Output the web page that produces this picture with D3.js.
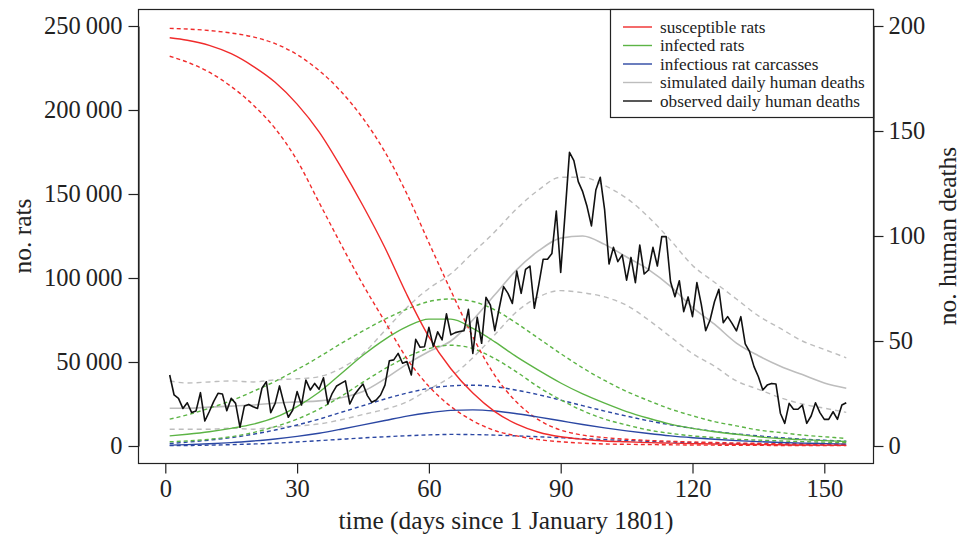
<!DOCTYPE html>
<html>
<head>
<meta charset="utf-8">
<script src="https://cdn.jsdelivr.net/npm/d3@7"></script>
<style>
  html, body { margin: 0; padding: 0; background: #fff; }
  svg { display: block; }
  text { font-family: "Liberation Serif", "DejaVu Serif", serif; fill: #222; }
</style>
</head>
<body>
<svg id="chart" width="961" height="539"></svg>
<script>
// ---------- data ----------
const xTicks = [0, 30, 60, 90, 120, 150];
const ratTicks = [0, 50000, 100000, 150000, 200000, 250000];
const deathTicks = [0, 50, 100, 150, 200];

// smooth model curves: days and values (rats)
const modelDays = [1, 5, 10, 15, 20, 25, 30, 35, 40, 45, 50, 55, 60, 65, 70, 75, 80, 85, 90, 95, 100, 105, 110, 115, 120, 125, 130, 135, 140, 145, 150, 155];
const susceptible      = [243000, 241500, 238500, 233500, 226000, 216500, 203500, 187000, 166000, 143000, 118000, 90000, 65000, 46000, 31500, 20500, 13000, 8200, 5500, 4000, 3000, 2500, 2000, 1700, 1400, 1200, 1000, 850, 700, 600, 500, 400];
const susceptibleHi    = [248600, 248200, 247300, 245800, 243500, 239500, 233000, 223500, 211000, 195000, 175000, 150000, 121000, 92500, 65000, 42000, 26000, 15500, 9500, 6500, 5000, 4000, 3300, 2800, 2400, 2100, 1800, 1600, 1450, 1300, 1150, 1000];
const susceptibleLo    = [232000, 228500, 222500, 214000, 203000, 189000, 170000, 145000, 120000, 96000, 74000, 52000, 35500, 23500, 15000, 9200, 6000, 3800, 2500, 1700, 1200, 1000, 850, 700, 600, 500, 430, 370, 320, 280, 240, 200];
const infected         = [6000, 7000, 8500, 10500, 13000, 17000, 23500, 32000, 43000, 54000, 63500, 71000, 75500, 75500, 70000, 62000, 53000, 45000, 37500, 31000, 25500, 20500, 16500, 13000, 10500, 8500, 7000, 5500, 4500, 3800, 3200, 2700];
const infectedHi       = [16000, 18500, 22500, 27000, 32500, 38500, 45500, 53000, 61000, 68500, 75500, 81500, 86000, 87500, 86000, 81000, 73000, 64000, 55000, 46500, 39000, 32500, 27000, 22000, 18000, 14500, 12000, 9500, 8000, 6500, 5500, 4500];
const infectedLo       = [2500, 3000, 4000, 5500, 8000, 11500, 16000, 22000, 29500, 38000, 46000, 53000, 58000, 60000, 58000, 52000, 44000, 35000, 27500, 21000, 16000, 12500, 9500, 7500, 6000, 5000, 4000, 3500, 3000, 2600, 2300, 2000];
const carcasses        = [500, 800, 1300, 2000, 3000, 4200, 5700, 7600, 10000, 12600, 15200, 17800, 19800, 21200, 21500, 20800, 19200, 17200, 15000, 12800, 10800, 9000, 7400, 6000, 4900, 4000, 3200, 2600, 2100, 1700, 1400, 1100];
const carcassesHi      = [1500, 2300, 3500, 5000, 7000, 9500, 12500, 16000, 20000, 24000, 28000, 31500, 34300, 35800, 36200, 35300, 33200, 30500, 27300, 24000, 20800, 17800, 15000, 12600, 10500, 8700, 7200, 6000, 5000, 4100, 3400, 2800];
const carcassesLo      = [200, 300, 500, 800, 1200, 1700, 2400, 3200, 4000, 4800, 5500, 6100, 6600, 6900, 6800, 6500, 6000, 5500, 4900, 4300, 3800, 3300, 2800, 2400, 2000, 1700, 1400, 1200, 1000, 850, 700, 600];

// simulated daily human deaths (right axis)
const simDeaths   = [18, 18, 18.5, 19, 19.5, 20.5, 21, 21.5, 23, 26, 32, 39, 45, 50, 60, 72, 84, 93, 99, 100, 96, 90, 84, 76, 66, 58, 49, 43, 38, 34, 30, 27.5];
const simDeathsHi = [31, 30, 30.5, 31, 30.5, 31.5, 32, 33, 37, 44, 55, 66, 75, 82, 92, 102, 113, 122, 128, 128, 124, 118, 109, 98, 86, 78, 70, 62, 56, 50, 46, 42];
const simDeathsLo = [8, 8, 8, 8.5, 8, 9, 9.5, 10.5, 12.5, 15, 17.5, 21, 27, 33, 42, 53, 64, 71, 74, 73, 71, 67, 60, 52, 44, 38, 31, 27, 23, 20, 18, 16];

// observed daily human deaths, days 1..155
const observed = [
  33.8, 24.3, 22.7, 17.9, 20.6, 15.9, 16.7, 25.4, 11.9, 16.3,
  21.1, 25.1, 24.8, 16.8, 22.7, 20.3, 8.9, 19, 19.8, 18.7,
  17.9, 27.5, 30.6, 15.9, 20.3, 28.6, 20.3, 13.7, 17.1, 25.9,
  19.5, 31.4, 26.7, 29.8, 27, 32.5, 20, 25.1, 28.6, 29.8,
  31, 20, 24.3, 27, 29.5, 24, 20.8, 21.9, 24.3, 29,
  40.6, 41, 44.1, 39.4, 40.2, 33.8, 50.8, 47, 47.3, 56.5,
  47.3, 54.4, 50.5, 62.9, 52.9, 54, 54.5, 54.9, 65.1, 44.1,
  61.3, 48.9, 70.8, 67.1, 54.9, 65.6, 75.9, 72.7, 67.9, 83.3,
  72.7, 84.1, 85.7, 65.6, 76.7, 88.9, 88.9, 91.7, 111.9, 82.7,
  110.8, 139.8, 135.9, 125.9, 121.1, 114, 104.8, 121.9, 128, 112.4,
  86.7, 94.6, 87.8, 91, 79, 89.8, 77.8, 95.7, 81.9, 83.8,
  94.6, 85.7, 99.7, 99.7, 78.2, 71.1, 78.7, 64, 71, 61.6,
  77.8, 67.4, 54.9, 60, 68.7, 74.6, 58.7, 61.6, 58.4, 54.8,
  61.6, 48.6, 44.9, 37.8, 33, 26.7, 29, 29.8, 29.5, 15.6,
  10.8, 20.3, 17.5, 17.5, 19.5, 10.8, 14.3, 20.6, 15.9, 12.7,
  12.7, 16.3, 12.7, 19.5, 20.6
];

const legendLabels = ["susceptible rats", "infected rats", "infectious rat carcasses", "simulated daily human deaths", "observed daily human deaths"];
const legendColors = ["#f02b2b", "#5cb445", "#2b47a3", "#bdbdbd", "#111111"];

// ---------- layout ----------
const svg = d3.select("#chart");
const box = { left: 138.5, top: 9.5, right: 873.5, bottom: 463.5 };

const x = d3.scaleLinear().domain([0, 150]).range([165.3, 824.3]);
const yL = d3.scaleLinear().domain([0, 250000]).range([446, 26]);
const yR = d3.scaleLinear().domain([0, 200]).range([446, 26]);

const TICKFONT = 24.5, TITLEFONT = 25.4;
const colRed = legendColors[0], colGreen = legendColors[1], colBlue = legendColors[2], colGrey = legendColors[3], colBlack = legendColors[4];

// plot box
svg.append("rect")
  .attr("x", box.left).attr("y", box.top)
  .attr("width", box.right - box.left).attr("height", box.bottom - box.top)
  .attr("fill", "none").attr("stroke", "#222").attr("stroke-width", 1.2);

// axes
const fmtRats = d => d3.format(",")(d).replace(/,/g, "\u2009");
const gL = svg.append("g").attr("transform", `translate(${box.left},0)`)
  .call(d3.axisLeft(yL).tickValues(ratTicks).tickFormat(fmtRats).tickSize(10).tickPadding(6).tickSizeOuter(0));
const gR = svg.append("g").attr("transform", `translate(${box.right},0)`)
  .call(d3.axisRight(yR).tickValues(deathTicks).tickSize(10).tickPadding(5).tickSizeOuter(0));
const gB = svg.append("g").attr("transform", `translate(0,${box.bottom})`)
  .call(d3.axisBottom(x).tickValues(xTicks).tickSize(10).tickPadding(6).tickSizeOuter(0));
gB.select(".domain").attr("d", `M${x(0)},0H${x(150)}`);
[gL, gR, gB].forEach(g => {
  g.selectAll("text").style("font-family", '"Liberation Serif", serif').style("font-size", TICKFONT + "px").attr("fill", "#222");
  g.selectAll("line").attr("stroke", "#222").attr("stroke-width", 1.2);
  g.select(".domain").attr("stroke", "#222").attr("stroke-width", 1.2);
});

// axis titles
svg.append("text").attr("x", (box.left + box.right) / 2).attr("y", 529)
  .attr("text-anchor", "middle").style("font-size", TITLEFONT + "px")
  .text("time (days since 1 January 1801)");
svg.append("text").attr("transform", `translate(31,236) rotate(-90)`)
  .attr("text-anchor", "middle").style("font-size", TITLEFONT + "px").text("no. rats");
svg.append("text").attr("transform", `translate(956,236) rotate(-90)`)
  .attr("text-anchor", "middle").style("font-size", TITLEFONT + "px").text("no. human deaths");

// lines
const plot = svg.append("g");
function drawSeries(vals, days, yScale, color, dashed, width) {
  const data = days.map((d, i) => [d, vals[i]]);
  plot.append("path").datum(data)
    .attr("fill", "none").attr("stroke", color).attr("stroke-width", width || 1.4)
    .attr("stroke-dasharray", dashed ? dashed : null)
    .attr("stroke-linejoin", "round")
    .attr("d", d3.line().x(p => x(p[0])).y(p => yScale(p[1])).curve(d3.curveMonotoneX));
}
const greyDash = "5,4", colDash = "4,3";
// simulated human deaths (grey)
drawSeries(simDeathsHi, modelDays, yR, colGrey, greyDash);
drawSeries(simDeathsLo, modelDays, yR, colGrey, greyDash);
drawSeries(simDeaths, modelDays, yR, colGrey, null, 1.6);
// rats
drawSeries(carcassesHi, modelDays, yL, colBlue, colDash);
drawSeries(carcassesLo, modelDays, yL, colBlue, colDash);
drawSeries(infectedHi, modelDays, yL, colGreen, colDash);
drawSeries(infectedLo, modelDays, yL, colGreen, colDash);
drawSeries(susceptibleHi, modelDays, yL, colRed, colDash);
drawSeries(susceptibleLo, modelDays, yL, colRed, colDash);
drawSeries(carcasses, modelDays, yL, colBlue, null);
drawSeries(infected, modelDays, yL, colGreen, null);
drawSeries(susceptible, modelDays, yL, colRed, null);

// observed
const obsDays = observed.map((v, i) => i + 1);
plot.append("path").datum(observed)
  .attr("fill", "none").attr("stroke", colBlack).attr("stroke-width", 1.6)
  .attr("stroke-linejoin", "round")
  .attr("d", d3.line().x((v, i) => x(obsDays[i])).y(v => yR(v)));

// legend
const lg = svg.append("g");
lg.append("rect").attr("x", 610.5).attr("y", 9.5).attr("width", 263).attr("height", 108)
  .attr("fill", "#fff").attr("stroke", "#222").attr("stroke-width", 1.2);
legendLabels.forEach((lab, i) => {
  const yy = 27 + i * 18.5;
  lg.append("line").attr("x1", 623).attr("x2", 652).attr("y1", yy).attr("y2", yy)
    .attr("stroke", legendColors[i]).attr("stroke-width", 1.4);
  lg.append("text").attr("x", 660).attr("y", yy).attr("dy", "0.33em")
    .style("font-size", "17.2px").text(lab);
});
</script>
</body>
</html>
